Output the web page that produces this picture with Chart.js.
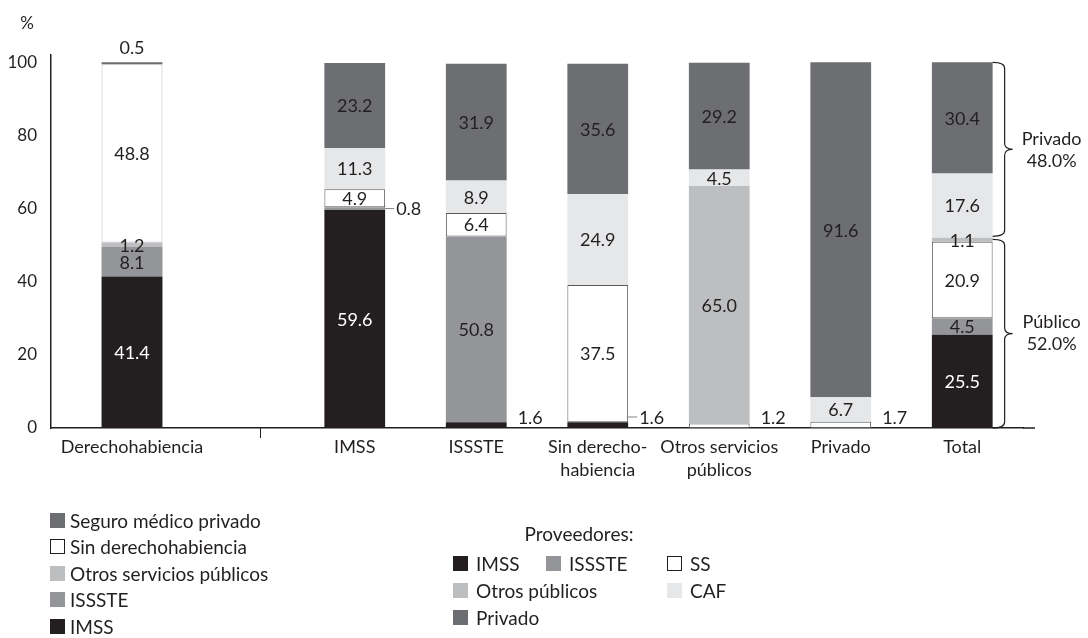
<!DOCTYPE html>
<html>
<head>
<meta charset="utf-8">
<script src="https://cdn.jsdelivr.net/npm/chart.js@4.4.1/dist/chart.umd.min.js"></script>
<style>
  html, body { margin: 0; padding: 0; background: #fff; overflow: hidden; }
  #wrap { position: relative; width: 1088px; height: 638px; font-family: Lato, "Open Sans", sans-serif; color: #231f20; }
  #chart { position: absolute; left: 0; top: 0; }
  .item { position: absolute; display: flex; align-items: center; height: 22px; font-size: 19px; white-space: nowrap; }
  .sw { width: 15px; height: 15px; box-sizing: border-box; }
  .title { position: absolute; font-size: 19px; transform: translate(-50%, -50%); white-space: nowrap; }
</style>
</head>
<body>
<div id="wrap">
  <canvas id="chart" width="1088" height="638"></canvas>
</div>
<script>
// provider columns on the main x axis (first two slots hold the coverage bar and the gap)
const categories = ['', '', 'IMSS', 'ISSSTE', ['Sin derecho-', 'habiencia'], ['Otros servicios', 'públicos'], 'Privado', 'Total'];
// helper axis for the coverage bar
const coverageAxisLabels = ['Derechohabiencia', '', '', '', '', ''];

// first bar: coverage (derechohabiencia), bottom to top
const coverageLabels = ['IMSS', 'ISSSTE', 'Otros servicios públicos', 'Sin derechohabiencia', 'Seguro médico privado'];
const coverageValues = [41.4, 8.1, 1.2, 48.8, 0.5];

// other bars: providers by coverage group (IMSS, ISSSTE, Sin derecho., Otros serv., Privado, Total)
const providerLabels = ['IMSS', 'ISSSTE', 'SS', 'Otros públicos', 'CAF', 'Privado'];
const provIMSS    = [59.6, 1.6, 1.6, 0, 0, 25.5];
const provISSSTE  = [0.8, 50.8, 0, 0, 0, 4.5];
const provSS      = [4.9, 6.4, 37.5, 1.2, 1.7, 20.9];
const provOtros   = [0, 0, 0, 65.0, 0, 1.1];
const provCAF     = [11.3, 8.9, 24.9, 4.5, 6.7, 17.6];
const provPrivado = [23.2, 31.9, 35.6, 29.2, 91.6, 30.4];

const yTicks = [0, 20, 40, 60, 80, 100];

// colours
const black = '#231f20', midGray = '#939598', lightGray = '#bcbec0', paleGray = '#e6e7e8', darkGray = '#6d6e71', white = '#ffffff';
const coverageColors = [black, midGray, lightGray, white, darkGray];
const coverageBorders = [null, null, null, '#bcbec0', null];
const providerColors = [black, midGray, white, lightGray, paleGray, darkGray];
const providerBorders = [null, null, '#58595b', null, null, null];
const FONT = 'Lato, "Open Sans", sans-serif';

Chart.defaults.font.family = FONT;
Chart.defaults.color = black;

const firstProviderCol = 2;
const providerSeries = [provIMSS, provISSSTE, provSS, provOtros, provCAF, provPrivado];

const coverageDatasets = coverageLabels.map((label, k) => ({
  label: label,
  xAxisID: 'xCov',
  grouped: false,
  data: [coverageValues[k]],
  backgroundColor: coverageColors[k],
  borderColor: coverageBorders[k] || coverageColors[k],
  borderWidth: coverageBorders[k] ? 1 : 0,
  borderSkipped: false,
  barPercentage: 0.376,
  categoryPercentage: 1
}));

const providerDatasets = providerLabels.map((label, k) => ({
  label: label,
  xAxisID: 'x',
  grouped: false,
  data: categories.map((c, i) => i < firstProviderCol ? null : (providerSeries[k][i - firstProviderCol] || null)),
  backgroundColor: providerColors[k],
  borderColor: providerBorders[k] || providerColors[k],
  borderWidth: providerBorders[k] ? 1 : 0,
  borderSkipped: false,
  barPercentage: 0.5,
  categoryPercentage: 1
}));

const allDatasets = [...coverageDatasets, ...providerDatasets];
const leaderColumns = [2, 4]; // columns whose small outside labels get a short leader line

// value labels on / next to the segments
const valueLabels = {
  id: 'valueLabels',
  afterDatasetsDraw(chart) {
    const ctx = chart.ctx;
    const zeroY = chart.scales.y.getPixelForValue(0);
    const last = categories.length - 1;
    const sets = chart.data.datasets;
    ctx.save();
    ctx.font = '18px ' + FONT;
    ctx.textBaseline = 'middle';
    sets.forEach((ds, di) => {
      const meta = chart.getDatasetMeta(di);
      const group = sets.filter(d => d.xAxisID === ds.xAxisID);
      const gi = group.indexOf(ds);
      meta.data.forEach((bar, i) => {
        const v = ds.data[i];
        if (v == null) return;
        const txt = v.toFixed(1);
        const cy = (bar.y + bar.base) / 2;
        const right = bar.x + bar.width / 2;
        const isTop = !group.slice(gi + 1).some(d => d.data[i] != null);
        const edgeBar = ds.xAxisID === 'xCov' || i === last;
        ctx.fillStyle = ds.backgroundColor === black ? '#ffffff' : black;
        if (v >= 4 || (edgeBar && !isTop)) {
          ctx.textAlign = 'center';
          ctx.fillText(txt, bar.x, cy + 1);
        } else if (isTop) {
          ctx.textAlign = 'center';
          ctx.fillStyle = black;
          ctx.fillText(txt, bar.x, Math.min(bar.y, bar.base) - 14);
        } else {
          const ly = Math.min(cy, zeroY - 11);
          ctx.fillStyle = black;
          ctx.textAlign = 'left';
          if (leaderColumns.includes(i)) {
            ctx.strokeStyle = '#808285';
            ctx.lineWidth = 1;
            ctx.beginPath();
            ctx.moveTo(right, ly);
            ctx.lineTo(right + 9, ly);
            ctx.stroke();
          }
          ctx.fillText(txt, right + 11, ly + 1);
        }
      });
    });
    ctx.restore();
  }
};

function brace(ctx, x0, y1, y2, xs, xt) {
  const ym = (y1 + y2) / 2, r = 6;
  ctx.beginPath();
  ctx.moveTo(x0, y1);
  ctx.quadraticCurveTo(xs, y1, xs, y1 + r);
  ctx.lineTo(xs, ym - r);
  ctx.quadraticCurveTo(xs, ym, xt, ym);
  ctx.quadraticCurveTo(xs, ym, xs, ym + r);
  ctx.lineTo(xs, y2 - r);
  ctx.quadraticCurveTo(xs, y2, x0, y2);
  ctx.stroke();
}

// axis extras, "%" title and the braces next to Total
const extras = {
  id: 'extras',
  afterDraw(chart) {
    const {ctx, chartArea, scales: {x, y}} = chart;
    ctx.save();
    ctx.strokeStyle = black;
    ctx.lineWidth = 1.5;
    ctx.beginPath();
    ctx.moveTo(chartArea.right, chartArea.bottom);
    ctx.lineTo(chartArea.right + 12, chartArea.bottom);
    ctx.stroke();

    const x1 = x.getPixelForValue(1), x2 = x.getPixelForValue(2);
    const dx = Math.round(x1 + 0.22 * (x2 - x1)) + 0.5;
    ctx.lineWidth = 1;
    ctx.beginPath();
    ctx.moveTo(dx, chartArea.bottom);
    ctx.lineTo(dx, chartArea.bottom + 10);
    ctx.stroke();

    ctx.fillStyle = black;
    ctx.font = '17px ' + FONT;
    ctx.textAlign = 'center';
    ctx.textBaseline = 'middle';
    ctx.fillText('%', 27, 24);

    const t = categories.length - 1, k = t - firstProviderCol;
    const pub = provIMSS[k] + provISSSTE[k] + provSS[k] + provOtros[k];
    const priv = provCAF[k] + provPrivado[k];
    const lastMeta = chart.getDatasetMeta(chart.data.datasets.length - 1);
    const bar = lastMeta.data[t];
    const bx = bar.x + bar.width / 2;
    const yTop = y.getPixelForValue(pub + priv), yMid = y.getPixelForValue(pub), yBot = y.getPixelForValue(0);
    ctx.lineWidth = 1.2;
    brace(ctx, bx, yTop, yMid - 1.5, bx + 12, bx + 20);
    brace(ctx, bx, yMid + 1.5, yBot, bx + 12, bx + 20);
    ctx.font = '18px ' + FONT;
    const tx = bx + 59;
    const m1 = (yTop + yMid) / 2, m2 = (yMid + yBot) / 2;
    ctx.fillText('Privado', tx, m1 - 11);
    ctx.fillText(priv.toFixed(1) + '%', tx, m1 + 11);
    ctx.fillText('Público', tx, m2 - 11);
    ctx.fillText(pub.toFixed(1) + '%', tx, m2 + 11);
    ctx.restore();
  }
};

const xTickFont = { size: 18, lineHeight: 1.3 };

new Chart(document.getElementById('chart'), {
  type: 'bar',
  data: {
    labels: categories,
    datasets: allDatasets
  },
  options: {
    responsive: false,
    animation: false,
    layout: { padding: { top: 55, right: 65, left: 0, bottom: 0 } },
    plugins: { legend: { display: false }, tooltip: { enabled: false } },
    scales: {
      x: {
        stacked: true,
        grid: { display: false, drawTicks: false },
        border: { display: true, color: black, width: 1.5 },
        ticks: { color: black, font: xTickFont, padding: 7, autoSkip: false, maxRotation: 0 },
        afterFit(scale) { scale.height = 210; }
      },
      xCov: {
        type: 'category',
        labels: coverageAxisLabels,
        stacked: true,
        position: { y: 0 },
        grid: { display: false, drawTicks: false },
        border: { display: false },
        ticks: { color: black, font: xTickFont, padding: 7, autoSkip: false, maxRotation: 0 }
      },
      y: {
        stacked: true,
        min: 0,
        max: 102,
        grid: { display: false, drawTicks: false },
        border: { display: true, color: black, width: 1.5 },
        afterBuildTicks(scale) { scale.ticks = yTicks.map(v => ({ value: v })); },
        ticks: { color: black, font: { size: 17 }, padding: 14 },
        afterFit(scale) { scale.width = 51; }
      }
    }
  },
  plugins: [valueLabels, extras]
});

// legends
const wrap = document.getElementById('wrap');
function addItem(x, y, color, text, gap) {
  const el = document.createElement('div');
  el.className = 'item';
  el.style.left = x + 'px';
  el.style.top = (y - 11) + 'px';
  const sw = document.createElement('div');
  sw.className = 'sw';
  sw.style.background = color;
  if (color === white) sw.style.border = '1px solid ' + black;
  sw.style.marginRight = gap + 'px';
  el.appendChild(sw);
  el.appendChild(document.createTextNode(text));
  wrap.appendChild(el);
}

// coverage legend: reversed order, stacked vertically
const coverageLegendTop = 520, coverageLegendStep = 26.5;
coverageLabels.slice().reverse().forEach((label, r) => {
  const k = coverageLabels.length - 1 - r;
  addItem(50, coverageLegendTop + r * coverageLegendStep, coverageColors[k], label, 5);
});

const title = document.createElement('div');
title.className = 'title';
title.style.left = '579px';
title.style.top = '533px';
title.textContent = 'Proveedores:';
wrap.appendChild(title);

const providerLegendPos = [[453, 563], [546, 563], [667, 563], [453, 590], [667, 590], [453, 617]];
providerLabels.forEach((label, k) => {
  addItem(providerLegendPos[k][0], providerLegendPos[k][1], providerColors[k], label, 8);
});
</script>
</body>
</html>
